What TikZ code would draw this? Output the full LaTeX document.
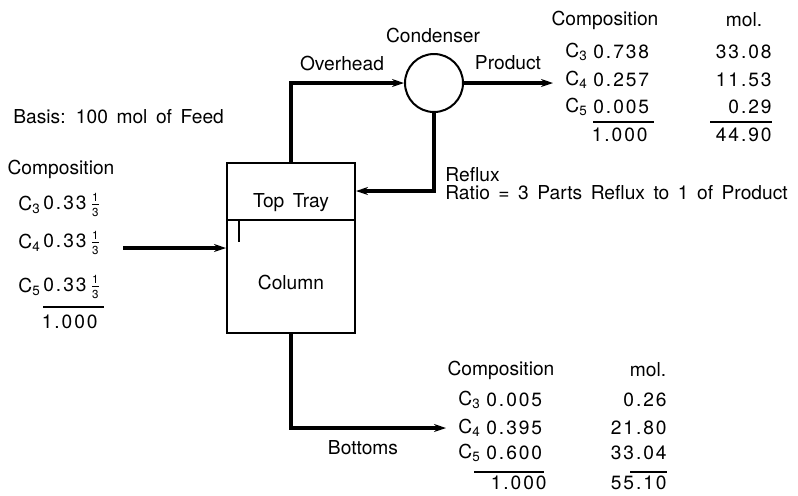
\documentclass[tikz,border=0pt]{standalone}
\usepackage{fontspec}
\setmainfont{TeX Gyre Heros}[WordSpace=1.6]
\newfontfamily\digitfont{TeX Gyre Heros}[LetterSpace=10]
\usepackage{amsmath}
\usepackage{tikz}
\usetikzlibrary{positioning,arrows.meta,calc}
\newcommand{\onethird}{$\genfrac{}{}{0.4pt}{1}{\text{\fontsize{5.8}{6}\selectfont 1}}{\text{\fontsize{5.8}{6}\selectfont 3}}$}
\tikzset{
  lbl/.style={inner sep=0pt, font=\fontsize{9.6}{11}\selectfont},
  num/.style={inner sep=0pt, font=\digitfont\fontsize{9.6}{11}\selectfont},
  flow/.style={line width=1.8pt, -{Stealth[length=6pt,width=4pt]}},
  vessel/.style={draw, line width=1pt},
  sumrule/.style={line width=0.8pt}
}

\begin{document}
\begin{tikzpicture}[x=0.5pt,y=-0.5pt]
  \useasboundingbox (0,0) rectangle (798,495);

  % column and condenser
  \node[vessel, minimum width=64pt, minimum height=85pt] (col) at (291,248) {};
  \node[vessel, circle, minimum size=29pt, inner sep=0pt] (cond) at (434,83) {};
  \coordinate (trayL) at ($(col.north west)+(0,58)$);
  \coordinate (trayR) at ($(col.north east)+(0,58)$);
  \draw[vessel] (trayL) -- (trayR);
  \draw[vessel] ($(trayL)+(13,0)$) -- ++(0,22);
  \node[lbl] (toptray) at (291,203) {Top Tray};
  \node[lbl] (colname) at (291,282) {Column};

  % stream labels
  \node[lbl] (condname) at (433,35) {Condenser};
  \node[lbl] (overhead) at (342,63) {Overhead};
  \node[lbl] (product) at (508,63) {Product};
  \node[lbl, anchor=west] (reflux) at (445,175) {Reflux};
  \node[lbl, anchor=west] (ratio) at (445,193) {Ratio = 3 Parts Reflux to 1 of Product};
  \node[lbl, anchor=west] (basis) at (13,117) {Basis: 100 mol of Feed};
  \node[lbl] (bottoms) at (363,448) {Bottoms};

  % feed
  \node[lbl] (fhead) at (61,169) {Composition};
  \foreach \i/\y in {3/205,4/243,5/287}{
    \node[lbl, anchor=west] (fc\i) at (18,\y) {C\textsubscript{\i}};
    \node[num, anchor=west] (fv\i) at (43,\y) {0.33\,\onethird};
  }
  \draw[sumrule] ($(fv5.west)+(0,20)$) -- ($(fv5.east)+(3,20)$);
  \node[num, anchor=east] (ftot) at (98,322) {1.000};

  % product
  \node[lbl] (phead) at (605,20) {Composition};
  \node[lbl] (pmolhead) at (744,20) {mol.};
  \foreach \i/\y/\v/\m in {3/52/0.738/33.08,4/80/0.257/11.53,5/107/0.005/0.29}{
    \node[lbl, anchor=west] (pc\i) at (565,\y) {C\textsubscript{\i}};
    \node[num, anchor=west] (pv\i) at (593,\y) {\v};
    \node[num, anchor=east] (pm\i) at (772,\y) {\m};
  }
  \draw[sumrule] ($(pv5.west)+(0,15)$) -- ($(pv5.east)+(4,15)$);
  \draw[sumrule] ($(pm5.east)+(-62,15)$) -- ($(pm5.east)+(0,15)$);
  \node[num, anchor=east] (ptot) at (648,135) {1.000};
  \node[num, anchor=east] (pmtot) at (772,135) {44.90};

  % bottoms
  \node[lbl] (bhead) at (501,370) {Composition};
  \node[lbl] (bmolhead) at (648,370) {mol.};
  \foreach \i/\y/\v/\m in {3/400/0.005/0.26,4/428/0.395/21.80,5/453/0.600/33.04}{
    \node[lbl, anchor=west] (bc\i) at (458,\y) {C\textsubscript{\i}};
    \node[num, anchor=west] (bv\i) at (486,\y) {\v};
    \node[num, anchor=east] (bm\i) at (667,\y) {\m};
  }
  \draw[sumrule] ($(bv5.west)+(-12,19)$) -- ($(bv5.east)+(1,19)$);
  \draw[sumrule] ($(bm5.east)+(-37,19)$) -- ($(bm5.east)+(0,19)$);
  \node[num, anchor=east] (btot) at (547,483) {1.000};
  \node[num, anchor=east] (bmtot) at (667,483) {55.10};

  % streams
  \draw[flow] ([xshift=11pt]fv4.east |- col.west) -- (col.west);
  \draw[flow] (col.north) |- (cond.west);
  \draw[flow] (cond.east) -- ([xshift=-6pt]pc4.west |- cond.east);
  \draw[flow] (cond.south) |- ($(col.north east)+(0,29)$);
  \draw[flow] (col.south) |- ([xshift=-6pt]bc4.west);
\end{tikzpicture}
\end{document}
